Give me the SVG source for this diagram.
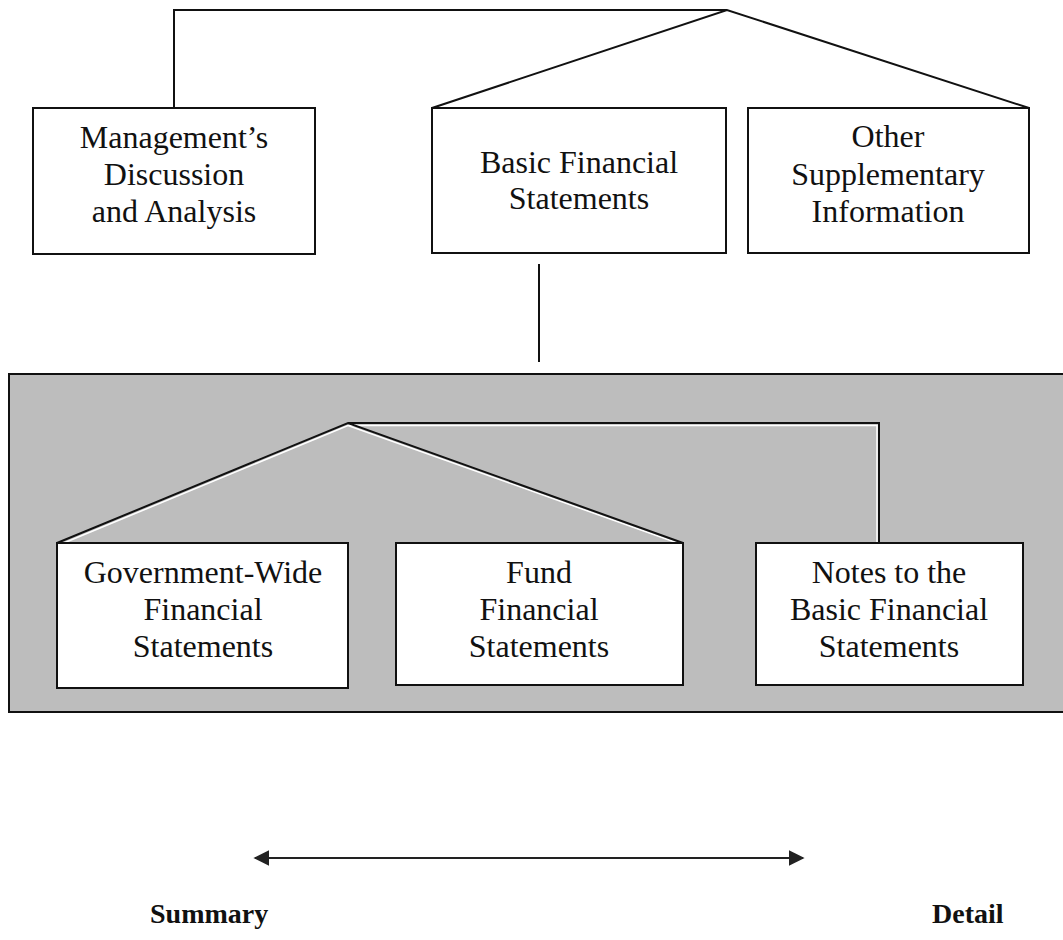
<svg xmlns="http://www.w3.org/2000/svg" width="1063" height="940" viewBox="0 0 1063 940">
<style>
.box{fill:#fff;stroke:#111;stroke-width:2}
.ln{fill:none;stroke:#111;stroke-width:2}
.hl{fill:none;stroke:#fff;stroke-width:1.5}
.t{font-family:"Liberation Serif","Times New Roman",serif;font-size:32px;fill:#111;text-anchor:middle}
.b{font-family:"Liberation Serif","Times New Roman",serif;font-size:28px;font-weight:bold;fill:#111}
</style>
<defs>
<marker id="ah2" viewBox="0 0 10 10" refX="9" refY="5" markerWidth="16" markerHeight="16" markerUnits="userSpaceOnUse" orient="auto-start-reverse">
<path d="M0,0 L10,5 L0,10 z" fill="#222"/>
</marker>
</defs>
<rect x="0" y="0" width="1063" height="940" fill="#fff"/>
<g id="panel">
<rect x="9" y="374" width="1060" height="338" fill="#bdbdbd" stroke="#111" stroke-width="2"/>
</g>
<g id="connectors">
<polyline class="ln" points="174,108 174,10 727,10"/>
<polyline class="ln" points="432,108 727,10 1029,108"/>
<line class="ln" x1="539" y1="264" x2="539" y2="362"/>
<polyline class="hl" points="59,545 348,425.5 683,545"/>
<polyline class="hl" points="349,425.5 877,425.5 877,543"/>
<polyline class="ln" points="57,543 348,423 683,543"/>
<polyline class="ln" points="348,423 879,423 879,543"/>
<line x1="255" y1="858" x2="803" y2="858" stroke="#222" stroke-width="2" marker-start="url(#ah2)" marker-end="url(#ah2)"/>
</g>
<g id="mda">
<rect class="box" x="33" y="108" width="282" height="146"/>
<text class="t" x="174" y="148">Management’s</text>
<text class="t" x="174" y="185">Discussion</text>
<text class="t" x="174" y="222">and Analysis</text>
</g>
<g id="bfs">
<rect class="box" x="432" y="108" width="294" height="145"/>
<text class="t" x="579" y="173">Basic Financial</text>
<text class="t" x="579" y="209">Statements</text>
</g>
<g id="osi">
<rect class="box" x="748" y="108" width="281" height="145"/>
<text class="t" x="888" y="147">Other</text>
<text class="t" x="888" y="185">Supplementary</text>
<text class="t" x="888" y="222">Information</text>
</g>
<g id="gwfs">
<rect class="box" x="57" y="543" width="291" height="145"/>
<text class="t" x="203" y="583">Government-Wide</text>
<text class="t" x="203" y="620">Financial</text>
<text class="t" x="203" y="657">Statements</text>
</g>
<g id="ffs">
<rect class="box" x="396" y="543" width="287" height="142"/>
<text class="t" x="539" y="583">Fund</text>
<text class="t" x="539" y="620">Financial</text>
<text class="t" x="539" y="657">Statements</text>
</g>
<g id="notes">
<rect class="box" x="756" y="543" width="267" height="142"/>
<text class="t" x="889" y="583">Notes to the</text>
<text class="t" x="889" y="620">Basic Financial</text>
<text class="t" x="889" y="657">Statements</text>
</g>
<g id="labels">
<text class="b" x="150" y="923">Summary</text>
<text class="b" x="932" y="923">Detail</text>
</g>
</svg>
